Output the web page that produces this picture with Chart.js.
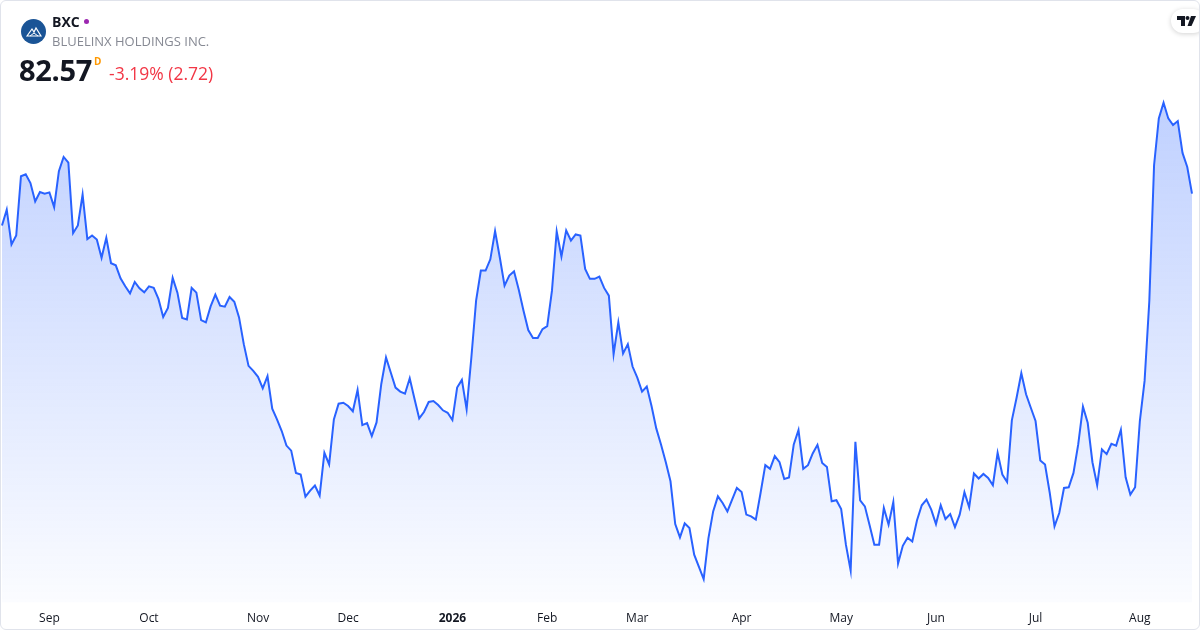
<!DOCTYPE html>
<html lang="en">
<head>
    <meta charset="UTF-8">
    <title>BXC - BlueLinx Holdings Inc.</title>
    <script src="https://cdn.jsdelivr.net/npm/chart.js@4.4.1/dist/chart.umd.min.js"></script>
    <style>
        html, body { margin: 0; padding: 0; background: #fff; }
        body { width: 1200px; height: 630px; overflow: hidden; font-family: "Open Sans", Roboto, sans-serif; }
        .card {
            position: relative; width: 1200px; height: 630px; box-sizing: border-box;
            border: 1px solid #e0e3eb; border-radius: 6px; overflow: hidden; background: #fff;
        }
        #grafico { position: absolute; left: 0; top: 0; }
        .logo {
            position: absolute; left: 20px; top: 18px; width: 25px; height: 25px; border-radius: 50%;
            background: #1a5496; display: flex; align-items: center; justify-content: center;
        }
        .ticker { position: absolute; left: 51px; top: 11px; font-size: 14px; font-weight: 700; color: #131722; }
        .ticker .dot { display: inline-block; width: 5px; height: 5px; border-radius: 50%; background: #9c27b0; margin-left: 4px; vertical-align: 3px; }
        .nombre { position: absolute; left: 51px; top: 31px; font-size: 13px; letter-spacing: 0; color: #868993; }
        .precio { position: absolute; left: 18px; top: 49px; font-size: 29px; font-weight: 700; color: #131722; letter-spacing: -0.3px; }
        .precio sup { font-size: 10px; color: #ff9800; font-weight: 700; position: absolute; left: 75px; top: 4px; }
        .cambio { position: absolute; left: 108px; top: 60px; font-size: 17.5px; color: #f23645; }
        .tv {
            position: absolute; right: -6px; top: 8px; width: 34px; height: 24px; border-radius: 12px;
            background: #fff; box-shadow: 0 1px 5px rgba(0,0,0,0.18); display: flex; align-items: center; padding-left: 6px; box-sizing: border-box;
        }
    </style>
</head>
<body>
<div class="card">
    <canvas id="grafico" width="1198" height="639"></canvas>

    <!-- Cabecera -->
    <div class="logo">
        <svg width="16" height="12" viewBox="0 0 16 12">
            <path d="M1 10 L6 3 L8 6 L10 2 L15 10 Z" fill="none" stroke="#fff" stroke-width="1.2"/>
            <path d="M4 10 L8 7 L12 10" fill="none" stroke="#fff" stroke-width="1"/>
        </svg>
    </div>
    <div class="ticker">BXC<span class="dot"></span></div>
    <div class="nombre">BLUELINX HOLDINGS INC.</div>
    <div class="precio">82.57<sup>D</sup></div>
    <div class="cambio">-3.19% (2.72)</div>
    <div class="tv">
        <svg width="20" height="10" viewBox="0 0 20 10">
            <path d="M0 0 H8 V10 H4 V4 H0 Z" fill="#131722"/>
            <circle cx="10.5" cy="2" r="2" fill="#131722"/>
            <path d="M14 0 H19 L14.5 10 H10.5 Z" fill="#131722"/>
        </svg>
    </div>
</div>

<script>
    // Cierres diarios, 18 ago 2025 -> 18 ago 2026
    const closePrices = [
        79.33, 80.94, 77.40, 78.31, 84.34, 84.54, 83.65, 81.78, 82.73, 82.57,
        82.70, 81.20, 84.85, 86.30, 85.73, 78.55, 79.33, 82.47, 77.94, 78.31,
        77.91, 76.04, 78.08, 75.49, 75.28, 73.96, 73.14, 72.43, 73.59, 72.94,
        72.53, 73.14, 72.98, 71.86, 70.02, 70.94, 74.00, 72.50, 69.92, 69.77,
        72.98, 72.50, 69.71, 69.47, 71.10, 72.29, 71.17, 71.07, 72.06, 71.58,
        69.98, 67.26, 65.05, 64.54, 63.93, 62.77, 64.00, 60.69, 59.61, 58.42,
        56.94, 56.43, 54.16, 54.00, 51.75, 52.37, 52.88, 51.86, 56.20, 55.02,
        59.61, 61.20, 61.30, 60.97, 60.43, 62.60, 59.03, 59.23, 57.91, 59.30,
        63.21, 65.90, 64.37, 62.84, 62.43, 62.22, 63.79, 61.71, 59.71, 60.36,
        61.38, 61.48, 61.07, 60.53, 60.28, 59.54, 62.84, 63.62, 60.63, 65.90,
        71.68, 74.74, 74.74, 75.89, 78.75, 76.07, 73.21, 74.23, 74.67, 72.80,
        70.66, 68.69, 67.88, 67.88, 68.79, 69.10, 72.70, 78.72, 76.17, 78.83,
        77.80, 78.42, 78.31, 74.92, 73.90, 73.90, 74.13, 72.98, 72.19, 66.24,
        69.47, 66.30, 67.26, 64.98, 63.86, 62.43, 62.94, 60.97, 58.69, 57.06,
        55.28, 53.31, 48.96, 47.60, 49.03, 48.55, 45.84, 44.61, 43.35, 47.50,
        50.25, 51.78, 51.10, 50.25, 51.45, 52.63, 52.22, 49.92, 49.74, 49.41,
        52.12, 54.95, 54.57, 55.87, 55.25, 53.55, 53.69, 57.06, 58.52, 54.57,
        54.95, 56.14, 57.02, 55.18, 54.77, 51.27, 51.38, 50.49, 46.86, 44.23,
        57.33, 51.38, 50.76, 48.83, 46.86, 46.86, 50.59, 48.90, 51.20, 44.95,
        46.75, 47.57, 47.19, 49.34, 50.87, 51.45, 50.43, 48.96, 50.87, 49.47,
        49.98, 48.65, 49.92, 52.19, 50.66, 54.10, 53.59, 54.06, 53.65, 52.91,
        56.20, 54.00, 53.24, 59.51, 61.81, 64.30, 62.16, 60.79, 59.44, 55.43,
        55.02, 52.12, 48.72, 50.08, 52.63, 52.70, 54.16, 57.06, 60.90, 59.26,
        55.25, 52.91, 56.55, 56.07, 57.12, 56.94, 58.55, 53.72, 51.96, 52.70,
        59.44, 63.52, 71.68, 85.46, 90.22, 91.81, 90.22, 89.54, 89.95, 86.71,
        85.28, 82.57
    ];

    // Primera sesión de cada mes (índice dentro de closePrices)
    const monthTickIndex  = [10, 31, 54, 73, 95, 115, 134, 156, 177, 197, 218, 240];
    const monthTickLabels = ['Sep', 'Oct', 'Nov', 'Dec', '2026', 'Feb', 'Mar', 'Apr', 'May', 'Jun', 'Jul', 'Aug'];

    const priceMin = 40.97;
    const priceMax = 93.01;

    const ctx = document.getElementById('grafico').getContext('2d');
    const chart = new Chart(ctx, {
        type: 'line',
        data: {
            labels: closePrices.map((_, i) => i),
            datasets: [{
                data: closePrices,
                borderColor: '#2962ff',
                borderWidth: 2,
                pointRadius: 0,
                tension: 0,
                fill: 'start',
                backgroundColor: (c) => {
                    const area = c.chart.chartArea;
                    if (!area) return 'rgba(41,98,255,0.15)';
                    const g = c.chart.ctx.createLinearGradient(0, area.top, 0, area.bottom);
                    g.addColorStop(0, 'rgba(41,98,255,0.30)');
                    g.addColorStop(1, 'rgba(41,98,255,0.02)');
                    return g;
                }
            }]
        },
        options: {
            responsive: false,
            animation: false,
            layout: { padding: { left: 1, right: 7, top: 90, bottom: 5 } },
            plugins: { legend: { display: false }, tooltip: { enabled: false } },
            scales: {
                x: {
                    type: 'category',
                    offset: false,
                    grid: { display: false, drawTicks: false },
                    border: { display: false },
                    afterBuildTicks: (axis) => {
                        axis.ticks = monthTickIndex.map(v => ({ value: v }));
                    },
                    ticks: {
                        autoSkip: false,
                        maxRotation: 0,
                        padding: 9,
                        color: '#131722',
                        font: (c) => ({
                            family: '"Open Sans", Roboto, sans-serif',
                            size: 12,
                            weight: (c.tick && c.tick.label === '2026') ? 'bold' : 'normal'
                        }),
                        callback: (value) => monthTickLabels[monthTickIndex.indexOf(value)]
                    }
                },
                y: {
                    display: false,
                    min: priceMin,
                    max: priceMax
                }
            }
        }
    });
</script>
</body>
</html>
